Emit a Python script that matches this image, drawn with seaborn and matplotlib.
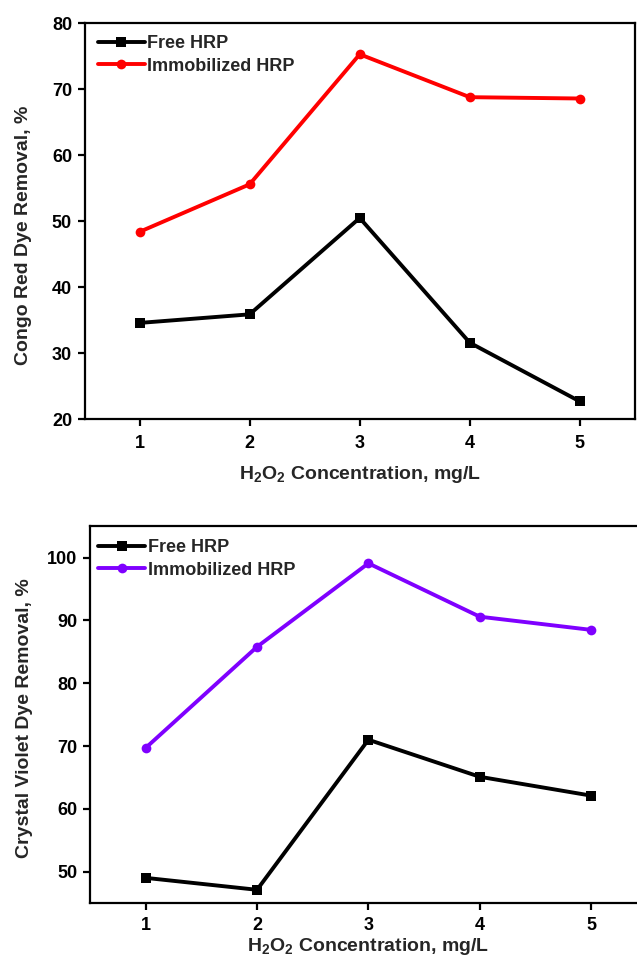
import matplotlib
matplotlib.use("Agg")
import matplotlib.pyplot as plt
import seaborn as sns
import pandas as pd

# data
conc = [1, 2, 3, 4, 5]
congo_free = [34.6, 35.9, 50.5, 31.6, 22.7]
congo_immob = [48.4, 55.6, 75.3, 68.8, 68.6]
violet_free = [49.0, 47.1, 71.0, 65.1, 62.1]
violet_immob = [69.7, 85.8, 99.1, 90.6, 88.5]

sns.set_theme(style="ticks")
plt.rcParams['font.family'] = ['Liberation Sans', 'DejaVu Sans']
plt.rcParams['font.weight'] = 'bold'
plt.rcParams['mathtext.fontset'] = 'custom'
plt.rcParams['mathtext.rm'] = 'Liberation Sans:bold'
plt.rcParams['mathtext.bf'] = 'Liberation Sans:bold'
plt.rcParams['mathtext.default'] = 'bf'

fig = plt.figure(figsize=(6.37, 9.61), dpi=100)
ax1 = fig.add_axes([0.1327, 0.5637, 0.864, 0.4121])
ax2 = fig.add_axes([0.1413, 0.0607, 0.874, 0.3920])

xlabel = r"H$_2$O$_2$ Concentration, mg/L"


def draw(ax, free, immob, col, ylabel, ylim, yticks, ylab_xy, leg_xy, xpad, xlabpad):
    df = pd.DataFrame({"conc": conc, "free": free, "immob": immob})
    sns.lineplot(data=df, x="conc", y="free", ax=ax, color="black", lw=2.8,
                 marker="s", markersize=6.5, markeredgewidth=0, label="Free HRP")
    sns.lineplot(data=df, x="conc", y="immob", ax=ax, color=col, lw=2.8,
                 marker="o", markersize=7, markeredgewidth=0, label="Immobilized HRP")
    ax.set_xlim(0.5, 5.5)
    ax.set_ylim(*ylim)
    ax.set_xticks(conc)
    ax.set_yticks(yticks)
    for s in ax.spines.values():
        s.set_linewidth(1.6)
        s.set_color("black")
    ax.tick_params(axis="both", direction="out", length=5, width=1.6,
                   labelsize=13, pad=4, top=False, right=False, colors="black")
    ax.tick_params(axis="x", pad=xpad)
    for t in ax.get_xticklabels() + ax.get_yticklabels():
        t.set_fontweight("bold")
    ax.set_xlabel(xlabel, fontsize=14, fontweight="bold", labelpad=xlabpad)
    ax.set_ylabel(ylabel, fontsize=14, fontweight="bold")
    ax.yaxis.set_label_coords(*ylab_xy)
    ax.set_facecolor("white")
    ax.legend(loc="upper left", bbox_to_anchor=leg_xy, frameon=False,
              handlelength=2.6, handletextpad=0.15,
              borderpad=0, borderaxespad=0, labelspacing=0.3,
              prop={"weight": "bold", "size": 13})


draw(ax1, congo_free, congo_immob, "#ff0000", "Congo Red Dye Removal, %",
     (20, 80), [20, 30, 40, 50, 60, 70, 80], (-0.095, 0.465), (0.024, 0.97), 6, 9)
draw(ax2, violet_free, violet_immob, "#7f00ff", "Crystal Violet Dye Removal, %",
     (45.05, 105.05), [50, 60, 70, 80, 90, 100], (-0.102, 0.49), (0.015, 0.965), 5, 2)

fig.savefig("out.png", dpi=100, facecolor="white")
